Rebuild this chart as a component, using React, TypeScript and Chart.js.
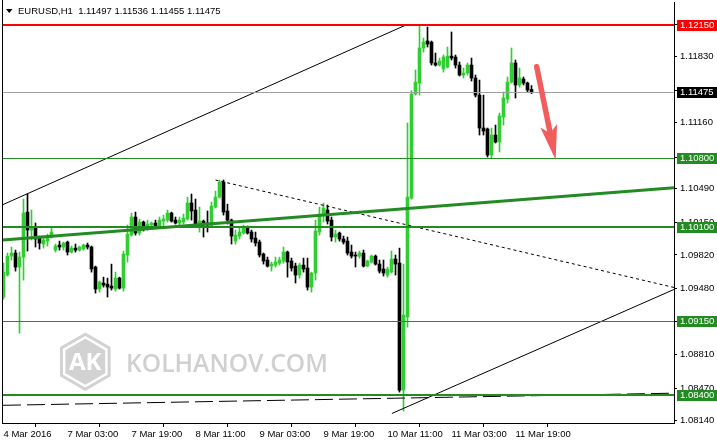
import React, { useEffect, useRef } from 'react';
import { Chart, registerables } from 'chart.js';

Chart.register(...registerables);

// ---------- DATA ----------
const symbolTitle = 'EURUSD,H1';
const titleValues = [1.11497, 1.11536, 1.11455, 1.11475];

// hourly candles, 4 Mar 11:00 .. 11 Mar 23:00 (133 bars)
const openP = [
  1.09393, 1.09616, 1.09808, 1.09839, 1.09697, 1.09798, 1.10254, 1.10072, 1.10102, 1.09991,
  1.09930, 1.09960, 1.10001, 1.09869, 1.09920, 1.09900, 1.09950, 1.09849, 1.09889, 1.09869,
  1.09879, 1.09920, 1.09900, 1.09697, 1.09474, 1.09535, 1.09524, 1.09504, 1.09474, 1.09585,
  1.09484, 1.09819, 1.10021, 1.10204, 1.10042, 1.10153, 1.10092, 1.10123, 1.10143, 1.10113,
  1.10163, 1.10173, 1.10244, 1.10173, 1.10143, 1.10153, 1.10183, 1.10346, 1.10275, 1.10123,
  1.10163, 1.10143, 1.10113, 1.10305, 1.10406, 1.10558, 1.10265, 1.10173, 1.09960, 1.10011,
  1.10042, 1.10102, 1.10052, 1.09991, 1.09950, 1.09829, 1.09768, 1.09707, 1.09717, 1.09737,
  1.09758, 1.09849, 1.09758, 1.09707, 1.09616, 1.09717, 1.09687, 1.09494, 1.09636, 1.10052,
  1.10234, 1.10275, 1.10173, 1.10001, 1.10042, 1.09981, 1.09960, 1.09849, 1.09819, 1.09808,
  1.09839, 1.09707, 1.09748, 1.09808, 1.09727, 1.09677, 1.09616, 1.09646, 1.09778, 1.09737,
  1.08450, 1.09190, 1.10396, 1.11450, 1.11562, 1.11917, 1.11988, 1.11977, 1.11765, 1.11744,
  1.11704, 1.11724, 1.11835, 1.11825, 1.11744, 1.11643, 1.11663, 1.11744, 1.11613, 1.11440,
  1.11106, 1.11096, 1.10832, 1.11035, 1.10964, 1.11217, 1.11400, 1.11572, 1.11765, 1.11542,
  1.11602, 1.11562, 1.11497,
];
const highP = [
  1.09737, 1.09839, 1.09900, 1.09869, 1.09849, 1.10386, 1.10437, 1.10275, 1.10143, 1.10011,
  1.10001, 1.10031, 1.10092, 1.09930, 1.09960, 1.09950, 1.09960, 1.09910, 1.09930, 1.09910,
  1.09930, 1.09940, 1.09910, 1.09707, 1.09555, 1.09595, 1.09585, 1.09727, 1.09646, 1.09595,
  1.09859, 1.10123, 1.10244, 1.10254, 1.10183, 1.10163, 1.10173, 1.10153, 1.10173, 1.10204,
  1.10224, 1.10275, 1.10254, 1.10204, 1.10204, 1.10234, 1.10406, 1.10437, 1.10386, 1.10305,
  1.10173, 1.10265, 1.10356, 1.10467, 1.10579, 1.10579, 1.10335, 1.10183, 1.10072, 1.10102,
  1.10123, 1.10113, 1.10072, 1.10052, 1.09971, 1.09839, 1.09798, 1.09748, 1.09798, 1.09798,
  1.09900, 1.09859, 1.09788, 1.09737, 1.09737, 1.09788, 1.09788, 1.09646, 1.10173, 1.10305,
  1.10346, 1.10325, 1.10204, 1.10072, 1.10052, 1.10011, 1.10001, 1.09920, 1.09849, 1.09859,
  1.09869, 1.09768, 1.09819, 1.09819, 1.09768, 1.09768, 1.09697, 1.09859, 1.09819, 1.09889,
  1.09727, 1.11157, 1.11484, 1.11694, 1.12155, 1.12018, 1.12129, 1.11988, 1.11866, 1.11815,
  1.11846, 1.11927, 1.12079, 1.11846, 1.11775, 1.11714, 1.11765, 1.11815, 1.11643, 1.11592,
  1.11440, 1.11106, 1.11106, 1.11136, 1.11258, 1.11471, 1.11623, 1.11917, 1.11795, 1.11714,
  1.11623, 1.11572, 1.11536,
];
const lowP = [
  1.09372, 1.09606, 1.09768, 1.09656, 1.09027, 1.09565, 1.09859, 1.09971, 1.09900, 1.09879,
  1.09889, 1.09910, 1.09991, 1.09849, 1.09869, 1.09869, 1.09819, 1.09839, 1.09849, 1.09859,
  1.09869, 1.09879, 1.09646, 1.09433, 1.09443, 1.09494, 1.09393, 1.09464, 1.09453, 1.09474,
  1.09453, 1.09748, 1.10011, 1.10021, 1.10021, 1.10062, 1.10072, 1.10102, 1.10102, 1.10092,
  1.10113, 1.10153, 1.10153, 1.10133, 1.10123, 1.10133, 1.10173, 1.10173, 1.10113, 1.10052,
  1.10001, 1.10052, 1.10102, 1.10295, 1.10396, 1.10224, 1.10133, 1.09930, 1.09930, 1.09981,
  1.10031, 1.10031, 1.09950, 1.09910, 1.09798, 1.09727, 1.09697, 1.09656, 1.09697, 1.09717,
  1.09737, 1.09595, 1.09656, 1.09535, 1.09585, 1.09646, 1.09464, 1.09443, 1.09565, 1.10021,
  1.10153, 1.10133, 1.09960, 1.09950, 1.09960, 1.09930, 1.09819, 1.09788, 1.09697, 1.09788,
  1.09697, 1.09702, 1.09737, 1.09717, 1.09636, 1.09606, 1.09595, 1.09636, 1.09616, 1.08430,
  1.08237, 1.09088, 1.10386, 1.11440, 1.11440, 1.11876, 1.11927, 1.11744, 1.11734, 1.11734,
  1.11673, 1.11714, 1.11795, 1.11714, 1.11633, 1.11613, 1.11643, 1.11582, 1.11420, 1.11035,
  1.11035, 1.10812, 1.10802, 1.10954, 1.10863, 1.11136, 1.11359, 1.11562, 1.11410, 1.11521,
  1.11542, 1.11471, 1.11455,
];
const closeP = [
  1.09646, 1.09808, 1.09839, 1.09697, 1.09798, 1.10244, 1.10072, 1.10102, 1.09981, 1.09940,
  1.09971, 1.10011, 1.10052, 1.09910, 1.09900, 1.09940, 1.09849, 1.09889, 1.09869, 1.09900,
  1.09920, 1.09900, 1.09677, 1.09474, 1.09545, 1.09514, 1.09494, 1.09484, 1.09585, 1.09484,
  1.09829, 1.10031, 1.10204, 1.10042, 1.10153, 1.10113, 1.10133, 1.10143, 1.10113, 1.10173,
  1.10183, 1.10244, 1.10163, 1.10143, 1.10173, 1.10193, 1.10346, 1.10265, 1.10133, 1.10163,
  1.10143, 1.10123, 1.10315, 1.10406, 1.10558, 1.10254, 1.10173, 1.10011, 1.10021, 1.10052,
  1.10102, 1.10042, 1.09981, 1.09940, 1.09819, 1.09758, 1.09707, 1.09727, 1.09748, 1.09768,
  1.09849, 1.09748, 1.09687, 1.09616, 1.09717, 1.09677, 1.09494, 1.09636, 1.10062, 1.10234,
  1.10295, 1.10163, 1.10001, 1.10031, 1.09981, 1.09950, 1.09839, 1.09808, 1.09808, 1.09839,
  1.09707, 1.09758, 1.09808, 1.09727, 1.09656, 1.09636, 1.09677, 1.09778, 1.09727, 1.08450,
  1.09210, 1.10406, 1.11450, 1.11572, 1.11917, 1.11977, 1.11957, 1.11765, 1.11744, 1.11785,
  1.11825, 1.11835, 1.11815, 1.11744, 1.11643, 1.11663, 1.11744, 1.11613, 1.11440, 1.11106,
  1.11075, 1.10832, 1.11035, 1.10964, 1.11228, 1.11410, 1.11572, 1.11765, 1.11542, 1.11613,
  1.11562, 1.11491, 1.11475,
];

const xTickIndex = [0, 16, 32, 48, 64, 80, 96, 112, 128];
const xTickLabels = [
  '4 Mar 2016', '7 Mar 03:00', '7 Mar 19:00', '8 Mar 11:00', '9 Mar 03:00',
  '9 Mar 19:00', '10 Mar 11:00', '11 Mar 03:00', '11 Mar 19:00',
];
const yTickValues = [
  1.0814, 1.0847, 1.0881, 1.0915, 1.0948, 1.0982, 1.1015, 1.1049, 1.1081, 1.1116, 1.1149, 1.1183, 1.1216,
];

// horizontal price levels
const levelPrices = [1.1215, 1.11475, 1.108, 1.101, 1.0915, 1.084];

// trend lines: [x (bar index), price]
const upperChannelX = [-0.125, 100.6];
const upperChannelY = [1.1033, 1.1215];
const lowerChannelX = [97.1, 167.625];
const lowerChannelY = [1.08213, 1.0947];
const dottedX = [53, 167.625];
const dottedY = [1.10579, 1.0949];
const longDashX = [-0.125, 167.625];
const longDashY = [1.08296, 1.08419];
const thickTrendX = [-0.125, 167.625];
const thickTrendY = [1.09971, 1.10501];
const arrowX = [133.3, 138.05];
const arrowY = [1.11727, 1.10782];

// axis ranges
const X_MIN = -0.125;
const X_MAX = 167.625;
const Y_MIN = 1.081167;
const Y_MAX = 1.123831;

// ---------- STYLE ----------
const FONT = '"Liberation Sans", Arial, sans-serif';
const BULL = '#32cd32';
const BEAR = '#000000';
const GREEN = '#228b22';
const levelColors = ['#ff0000', '#a0a0a0', GREEN, GREEN, GREEN, GREEN];
const levelWidths = [2, 1, 1, 2, 1, 2];
const levelBoxColors = ['#ff0000', '#000000', GREEN, GREEN, GREEN, GREEN];

function pts(xs: number[], ys: number[]) {
  return xs.map((x, i) => ({ x, y: ys[i] }));
}

function hexPath(ctx: CanvasRenderingContext2D, cx: number, cy: number, r: number) {
  ctx.beginPath();
  for (let k = 0; k < 6; k++) {
    const a = Math.PI / 2 + (k * Math.PI) / 3;
    const px = cx + r * Math.cos(a);
    const py = cy - r * Math.sin(a);
    if (k === 0) ctx.moveTo(px, py);
    else ctx.lineTo(px, py);
  }
  ctx.closePath();
}

const noPad = (s: any) => {
  s.paddingTop = 0;
  s.paddingBottom = 0;
  s.paddingLeft = 0;
  s.paddingRight = 0;
};

const overlayPlugin = {
  id: 'mt4overlay',
  beforeDatasetsDraw(chart: any) {
    const ctx: CanvasRenderingContext2D = chart.ctx;
    const ca = chart.chartArea;
    ctx.save();
    // watermark
    const cx = ca.left + 82.3;
    const cy = 361.7;
    const r = 29;
    ctx.strokeStyle = '#d2d2d2';
    ctx.lineWidth = 3;
    hexPath(ctx, cx, cy, r - 1.5);
    ctx.stroke();
    ctx.fillStyle = '#d2d2d2';
    hexPath(ctx, cx, cy, r - 6);
    ctx.fill();
    ctx.fillStyle = '#ffffff';
    ctx.font = 'bold 24px "Open Sans", sans-serif';
    ctx.textAlign = 'center';
    ctx.textBaseline = 'middle';
    ctx.fillText('AK', cx, cy + 1);
    ctx.fillStyle = '#d0d0d0';
    ctx.font = '600 25px "Open Sans", sans-serif';
    ctx.textAlign = 'left';
    ctx.textBaseline = 'alphabetic';
    const txt = 'KOLHANOV.COM';
    const w = ctx.measureText(txt).width;
    const target = 202;
    ctx.save();
    ctx.translate(ca.left + 123, 372);
    ctx.scale(target / w, 1);
    ctx.fillText(txt, 0, 0);
    ctx.restore();
    ctx.restore();
  },
  afterDatasetsDraw(chart: any) {
    const ctx: CanvasRenderingContext2D = chart.ctx;
    const ca = chart.chartArea;
    const xs = chart.scales.x;
    const ys = chart.scales.y;
    ctx.save();
    ctx.beginPath();
    ctx.rect(ca.left, ca.top, ca.right - ca.left, ca.bottom - ca.top);
    ctx.clip();
    // horizontal levels
    levelPrices.forEach((p, i) => {
      const y = Math.round(ys.getPixelForValue(p));
      ctx.fillStyle = levelColors[i];
      const lw = levelWidths[i];
      ctx.fillRect(ca.left, lw === 1 ? y : y - 1, ca.right - ca.left, lw);
    });
    // arrow
    const sx = xs.getPixelForValue(arrowX[0]);
    const sy = ys.getPixelForValue(arrowY[0]);
    const tx = xs.getPixelForValue(arrowX[1]);
    const ty = ys.getPixelForValue(arrowY[1]);
    const dx = tx - sx;
    const dy = ty - sy;
    const len = Math.hypot(dx, dy);
    const ux = dx / len;
    const uy = dy / len;
    const nx = -uy;
    const ny = ux;
    const headLen = 35;
    const halfW = 8.5;
    const bx = tx - ux * headLen;
    const by = ty - uy * headLen;
    const notchX = tx - ux * headLen * 0.78;
    const notchY = ty - uy * headLen * 0.78;
    ctx.strokeStyle = '#f25c5c';
    ctx.fillStyle = '#f25c5c';
    ctx.lineWidth = 5.5;
    ctx.lineCap = 'round';
    ctx.beginPath();
    ctx.moveTo(sx, sy);
    ctx.lineTo(notchX, notchY);
    ctx.stroke();
    ctx.beginPath();
    ctx.moveTo(tx, ty);
    ctx.lineTo(bx + nx * halfW, by + ny * halfW);
    ctx.lineTo(notchX, notchY);
    ctx.lineTo(bx - nx * halfW, by - ny * halfW);
    ctx.closePath();
    ctx.fill();
    ctx.restore();
  },
  afterDraw(chart: any) {
    const ctx: CanvasRenderingContext2D = chart.ctx;
    const ca = chart.chartArea;
    const ys = chart.scales.y;
    ctx.save();
    // left frame line
    ctx.fillStyle = '#000';
    ctx.fillRect(ca.left - 1, 0, 1, ca.bottom + 1);
    // level labels on price axis
    ctx.font = '9.5px ' + FONT;
    ctx.textBaseline = 'middle';
    ctx.textAlign = 'left';
    levelPrices.forEach((p, i) => {
      const y = Math.round(ys.getPixelForValue(p));
      ctx.fillStyle = levelBoxColors[i];
      ctx.fillRect(ca.right + 3, y - 5, 717 - ca.right - 3, 11);
      ctx.fillStyle = '#ffffff';
      ctx.fillText(p.toFixed(5), ca.right + 6, y + 0.5);
    });
    // title
    ctx.fillStyle = '#000';
    ctx.beginPath();
    ctx.moveTo(6, 9);
    ctx.lineTo(12.5, 9);
    ctx.lineTo(9.25, 13);
    ctx.closePath();
    ctx.fill();
    ctx.font = '9.5px ' + FONT;
    ctx.fillText(
      symbolTitle + '  ' + titleValues.map((v) => v.toFixed(5)).join(' '),
      18,
      11
    );
    ctx.restore();
  },
};

export default function App() {
  const ref = useRef<HTMLCanvasElement | null>(null);

  useEffect(() => {
    if (!ref.current) return;
    const idx = openP.map((_, i) => i);
    const bull = idx.map((i) => closeP[i] >= openP[i]);
    const chart = new Chart(ref.current, {
      type: 'bar',
      data: {
        datasets: [
          {
            type: 'line',
            data: pts(thickTrendX, thickTrendY),
            borderColor: GREEN,
            borderWidth: 3,
            pointRadius: 0,
            order: 1,
          } as any,
          {
            type: 'line',
            data: pts(upperChannelX, upperChannelY),
            borderColor: '#000',
            borderWidth: 1,
            pointRadius: 0,
            order: 2,
          } as any,
          {
            type: 'line',
            data: pts(lowerChannelX, lowerChannelY),
            borderColor: '#000',
            borderWidth: 1,
            pointRadius: 0,
            order: 2,
          } as any,
          {
            type: 'line',
            data: pts(dottedX, dottedY),
            borderColor: '#000',
            borderWidth: 1,
            borderDash: [3, 3],
            pointRadius: 0,
            order: 2,
          } as any,
          {
            type: 'line',
            data: pts(longDashX, longDashY),
            borderColor: '#000',
            borderWidth: 1,
            borderDash: [18, 6],
            pointRadius: 0,
            order: 2,
          } as any,
          {
            type: 'bar',
            data: idx.map((i) => ({ x: i, y: [lowP[i], highP[i]] })),
            backgroundColor: idx.map((i) => (bull[i] ? BULL : BEAR)),
            barThickness: 1,
            grouped: false,
            order: 10,
          } as any,
          {
            type: 'bar',
            data: idx.map((i) => ({ x: i, y: [openP[i], closeP[i]] })),
            backgroundColor: idx.map((i) => (bull[i] ? BULL : BEAR)),
            barThickness: 3,
            minBarLength: 1,
            grouped: false,
            order: 9,
          } as any,
        ],
      },
      options: {
        animation: false,
        responsive: false,
        events: [],
        layout: { padding: { left: 3, top: 2, right: 0, bottom: 0 } },
        plugins: { legend: { display: false }, tooltip: { enabled: false }, title: { display: false } },
        scales: {
          x: {
            type: 'linear',
            min: X_MIN,
            max: X_MAX,
            offset: false,
            afterBuildTicks: (s: any) => {
              s.ticks = xTickIndex.map((v) => ({ value: v }));
            },
            afterFit: (s: any) => {
              s.height = 21;
              noPad(s);
            },
            ticks: {
              autoSkip: false,
              maxRotation: 0,
              align: 'start',
              padding: 2,
              color: '#000',
              font: { family: FONT, size: 9.5 },
              callback: (v: any) => {
                const k = xTickIndex.indexOf(Number(v));
                return k >= 0 ? xTickLabels[k] : '';
              },
            },
            grid: { drawOnChartArea: false, drawTicks: true, tickLength: 4, color: '#000' },
            border: { display: true, color: '#000' },
          },
          y: {
            type: 'linear',
            position: 'right',
            min: Y_MIN,
            max: Y_MAX,
            afterBuildTicks: (s: any) => {
              s.ticks = yTickValues.map((v) => ({ value: v }));
            },
            afterFit: (s: any) => {
              s.width = 43;
              noPad(s);
            },
            ticks: {
              autoSkip: false,
              padding: 3,
              color: '#000',
              font: { family: FONT, size: 9.5 },
              callback: (v: any) => Number(v).toFixed(5),
            },
            grid: { drawOnChartArea: false, drawTicks: true, tickLength: 3, color: '#000' },
            border: { display: true, color: '#000' },
          },
        },
      },
      plugins: [overlayPlugin],
    } as any);
    return () => chart.destroy();
  }, []);

  return (
    <div style={{ position: 'absolute', left: 0, top: 0, width: 717, height: 444, background: '#fff' }}>
      <canvas ref={ref} width={717} height={444} />
    </div>
  );
}
